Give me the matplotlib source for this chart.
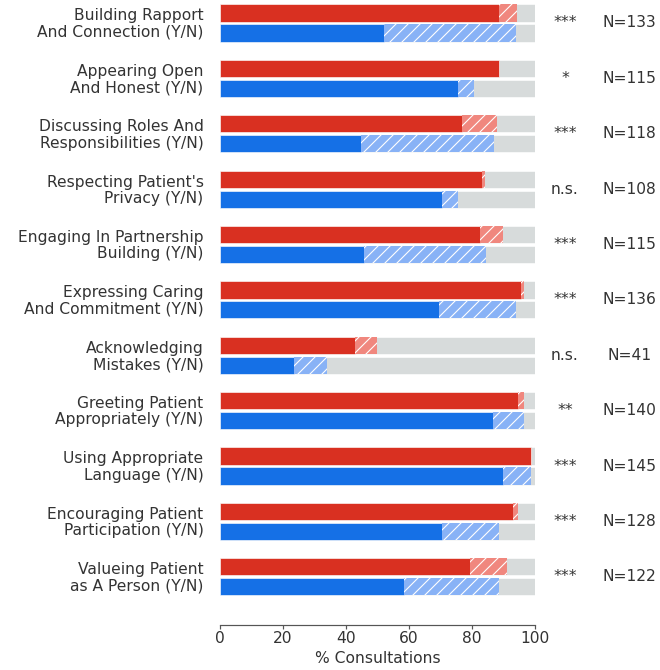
import matplotlib
matplotlib.use("Agg")
import matplotlib.pyplot as plt
import numpy as np

# Communication behaviours, one row per item
categories = [
    "Building Rapport\nAnd Connection (Y/N)",
    "Appearing Open\nAnd Honest (Y/N)",
    "Discussing Roles And\nResponsibilities (Y/N)",
    "Respecting Patient's\nPrivacy (Y/N)",
    "Engaging In Partnership\nBuilding (Y/N)",
    "Expressing Caring\nAnd Commitment (Y/N)",
    "Acknowledging\nMistakes (Y/N)",
    "Greeting Patient\nAppropriately (Y/N)",
    "Using Appropriate\nLanguage (Y/N)",
    "Encouraging Patient\nParticipation (Y/N)",
    "Valueing Patient\nas A Person (Y/N)",
]

# Red series: "yes" share and cumulative share incl. partial (hatched)
red_yes = [88.5, 88.5, 76.9, 83.2, 82.5, 95.4, 42.9, 94.6, 98.6, 93.1, 79.4]
red_total = [94.4, 88.5, 87.8, 84.2, 89.9, 96.5, 49.7, 96.5, 98.6, 94.5, 91.2]
# Blue series
blue_yes = [52.2, 75.7, 44.8, 70.6, 45.6, 69.6, 23.4, 86.6, 89.9, 70.6, 58.5]
blue_total = [94.0, 80.5, 87.1, 75.7, 84.4, 94.0, 34.1, 96.6, 98.6, 88.5, 88.5]

significance = ["***", "*", "***", "n.s.", "***", "***", "n.s.", "**", "***", "***", "***"]
n_counts = [133, 115, 118, 108, 115, 136, 41, 140, 145, 128, 122]

RED = "#d93021"
RED_LIGHT = "#f0877e"
BLUE = "#1570e6"
BLUE_LIGHT = "#88b2f6"
GREY = "#d7dbdb"
TEXT = "#333333"

plt.rcParams["hatch.linewidth"] = 1.1
plt.rcParams["font.family"] = ["DejaVu Sans"]

DPI = 72
fig = plt.figure(figsize=(660 / DPI, 670 / DPI), dpi=DPI)
ax = fig.add_axes([220 / 660, (670 - 625) / 670, 315 / 660, 625 / 670])

y = np.arange(len(categories))
off = 0.18
h = 0.31
fs = 15.5

for vals_yes, vals_tot, c_solid, c_hatch, dy in [
    (red_yes, red_total, RED, RED_LIGHT, -off),
    (blue_yes, blue_total, BLUE, BLUE_LIGHT, off),
]:
    yy = y + dy
    yes = np.array(vals_yes)
    tot = np.array(vals_tot)
    ax.barh(yy, 100, height=h, color=GREY, edgecolor="white", linewidth=0.6)
    ax.barh(yy, yes, height=h, color=c_solid, edgecolor="white", linewidth=0.6)
    ax.barh(yy, tot - yes, left=yes, height=h, color=c_hatch,
            edgecolor="white", linewidth=0.0, hatch="//")

for i, lab in enumerate(categories):
    ax.text(-5.2, i + 0.02, lab, ha="right", va="center", fontsize=fs,
            color=TEXT, linespacing=1.12)
    ax.text(109.5, i, significance[i], ha="center", va="center",
            fontsize=fs, color=TEXT)
    ax.text(130, i, f"N={n_counts[i]}", ha="center", va="center",
            fontsize=fs, color=TEXT)

ax.set_xlim(0, 100)
ax.set_ylim(10.87, -0.415)
ax.set_yticks([])
ax.set_xticks([0, 20, 40, 60, 80, 100])
ax.tick_params(axis="x", labelsize=fs, colors=TEXT, length=4, width=1.2,
               color="#555555", pad=2)
for s in ["top", "right", "left"]:
    ax.spines[s].set_visible(False)
ax.spines["bottom"].set_color("#555555")
ax.spines["bottom"].set_linewidth(1.2)
ax.set_xlabel("% Consultations", fontsize=fs, color=TEXT, labelpad=5)
ax.patch.set_alpha(0)

fig.savefig("out.png", dpi=DPI)
